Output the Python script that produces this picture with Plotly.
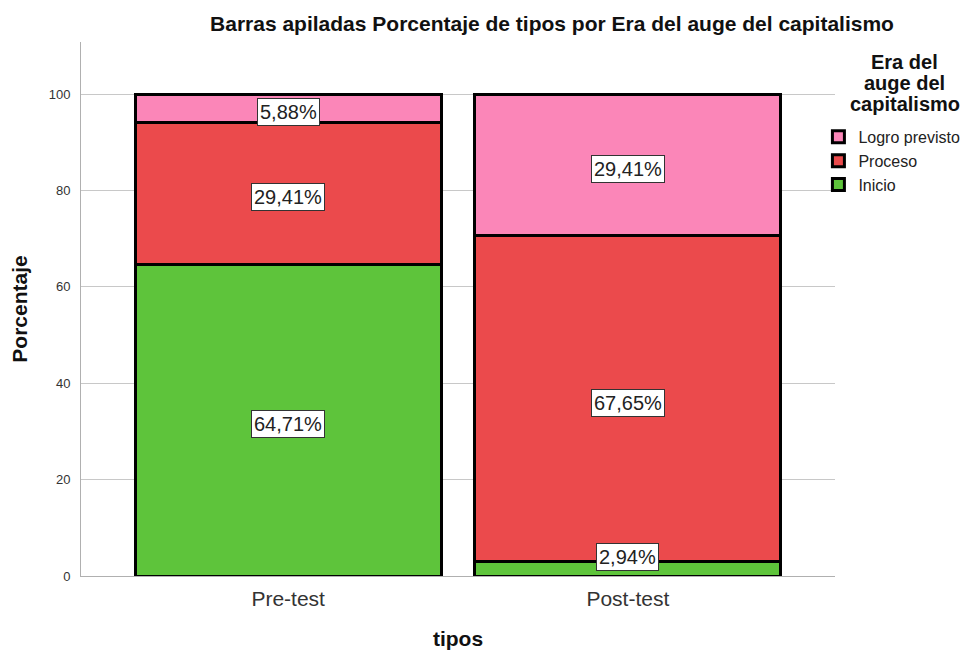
import plotly.graph_objects as go

# datos
tipos = ["Pre-test", "Post-test"]
inicio = [64.71, 2.94]
proceso = [29.41, 67.65]
logro = [5.88, 29.41]
etiquetas_inicio = ["64,71%", "2,94%"]
etiquetas_proceso = ["29,41%", "67,65%"]
etiquetas_logro = ["5,88%", "29,41%"]
titulo_leyenda = ["Era del", "auge del", "capitalismo"]

series = [
    ("Inicio", inicio, etiquetas_inicio, "#5ec43b"),
    ("Proceso", proceso, etiquetas_proceso, "#eb4a4c"),
    ("Logro previsto", logro, etiquetas_logro, "#fb86b8"),
]

fig = go.Figure()
base = [0, 0]
annotations = []
for name, vals, labs, color in series:
    fig.add_trace(go.Bar(x=tipos, y=vals, name=name, width=0.9,
                         marker=dict(color=color, line=dict(color="black", width=3))))
    for i, v in enumerate(vals):
        yc = max(base[i] + v / 2, 4.8)
        annotations.append(dict(x=tipos[i], y=yc, text=labs[i], showarrow=False,
                                font=dict(size=20, color="#222"), bgcolor="white",
                                bordercolor="#333", borderwidth=1, borderpad=2,
                                yshift=-4))
        base[i] += v

# titulo de la leyenda, centrado
for k, linea in enumerate(titulo_leyenda):
    annotations.append(dict(xref="paper", yref="paper", x=1.0928, y=0.9625 - k * 0.0393,
                            text="<b>" + linea + "</b>", showarrow=False,
                            xanchor="center", yanchor="middle", font=dict(size=20, color="#111")))

fig.update_layout(
    barmode="stack",
    width=962, height=642,
    margin=dict(l=73, r=135, t=34, b=74, autoexpand=False),
    plot_bgcolor="white", paper_bgcolor="white",
    font=dict(family="Liberation Sans, Arial, sans-serif", color="#111"),
    title=dict(text="<b>Barras apiladas Porcentaje de tipos por Era del auge del capitalismo</b>",
               x=0.5655, xanchor="center", y=0.975, yanchor="middle", font=dict(size=21)),
    xaxis=dict(range=[-0.61, 1.61], showline=True, linecolor="#b0b0b0", linewidth=1,
               ticks="", tickfont=dict(size=21, color="#333"), ticklabelstandoff=4,
               title=dict(text="<b>tipos</b>", font=dict(size=21), standoff=23)),
    yaxis=dict(range=[0, 110.8], tickvals=[0, 20, 40, 60, 80, 100], showgrid=True,
               gridcolor="#c8c8c8", showline=True, linecolor="#b0b0b0", linewidth=1,
               zeroline=False, tickfont=dict(size=13, color="#333"), ticks="",
               ticklabelstandoff=7,
               title=dict(text="<b>Porcentaje</b>", font=dict(size=21), standoff=23)),
    legend=dict(x=0.978, y=0.854, xanchor="left", yanchor="top", traceorder="reversed",
                font=dict(size=16, color="#222"), itemwidth=30, tracegroupgap=0,
                bgcolor="rgba(0,0,0,0)"),
    annotations=annotations,
)

fig.write_html("out.html")
